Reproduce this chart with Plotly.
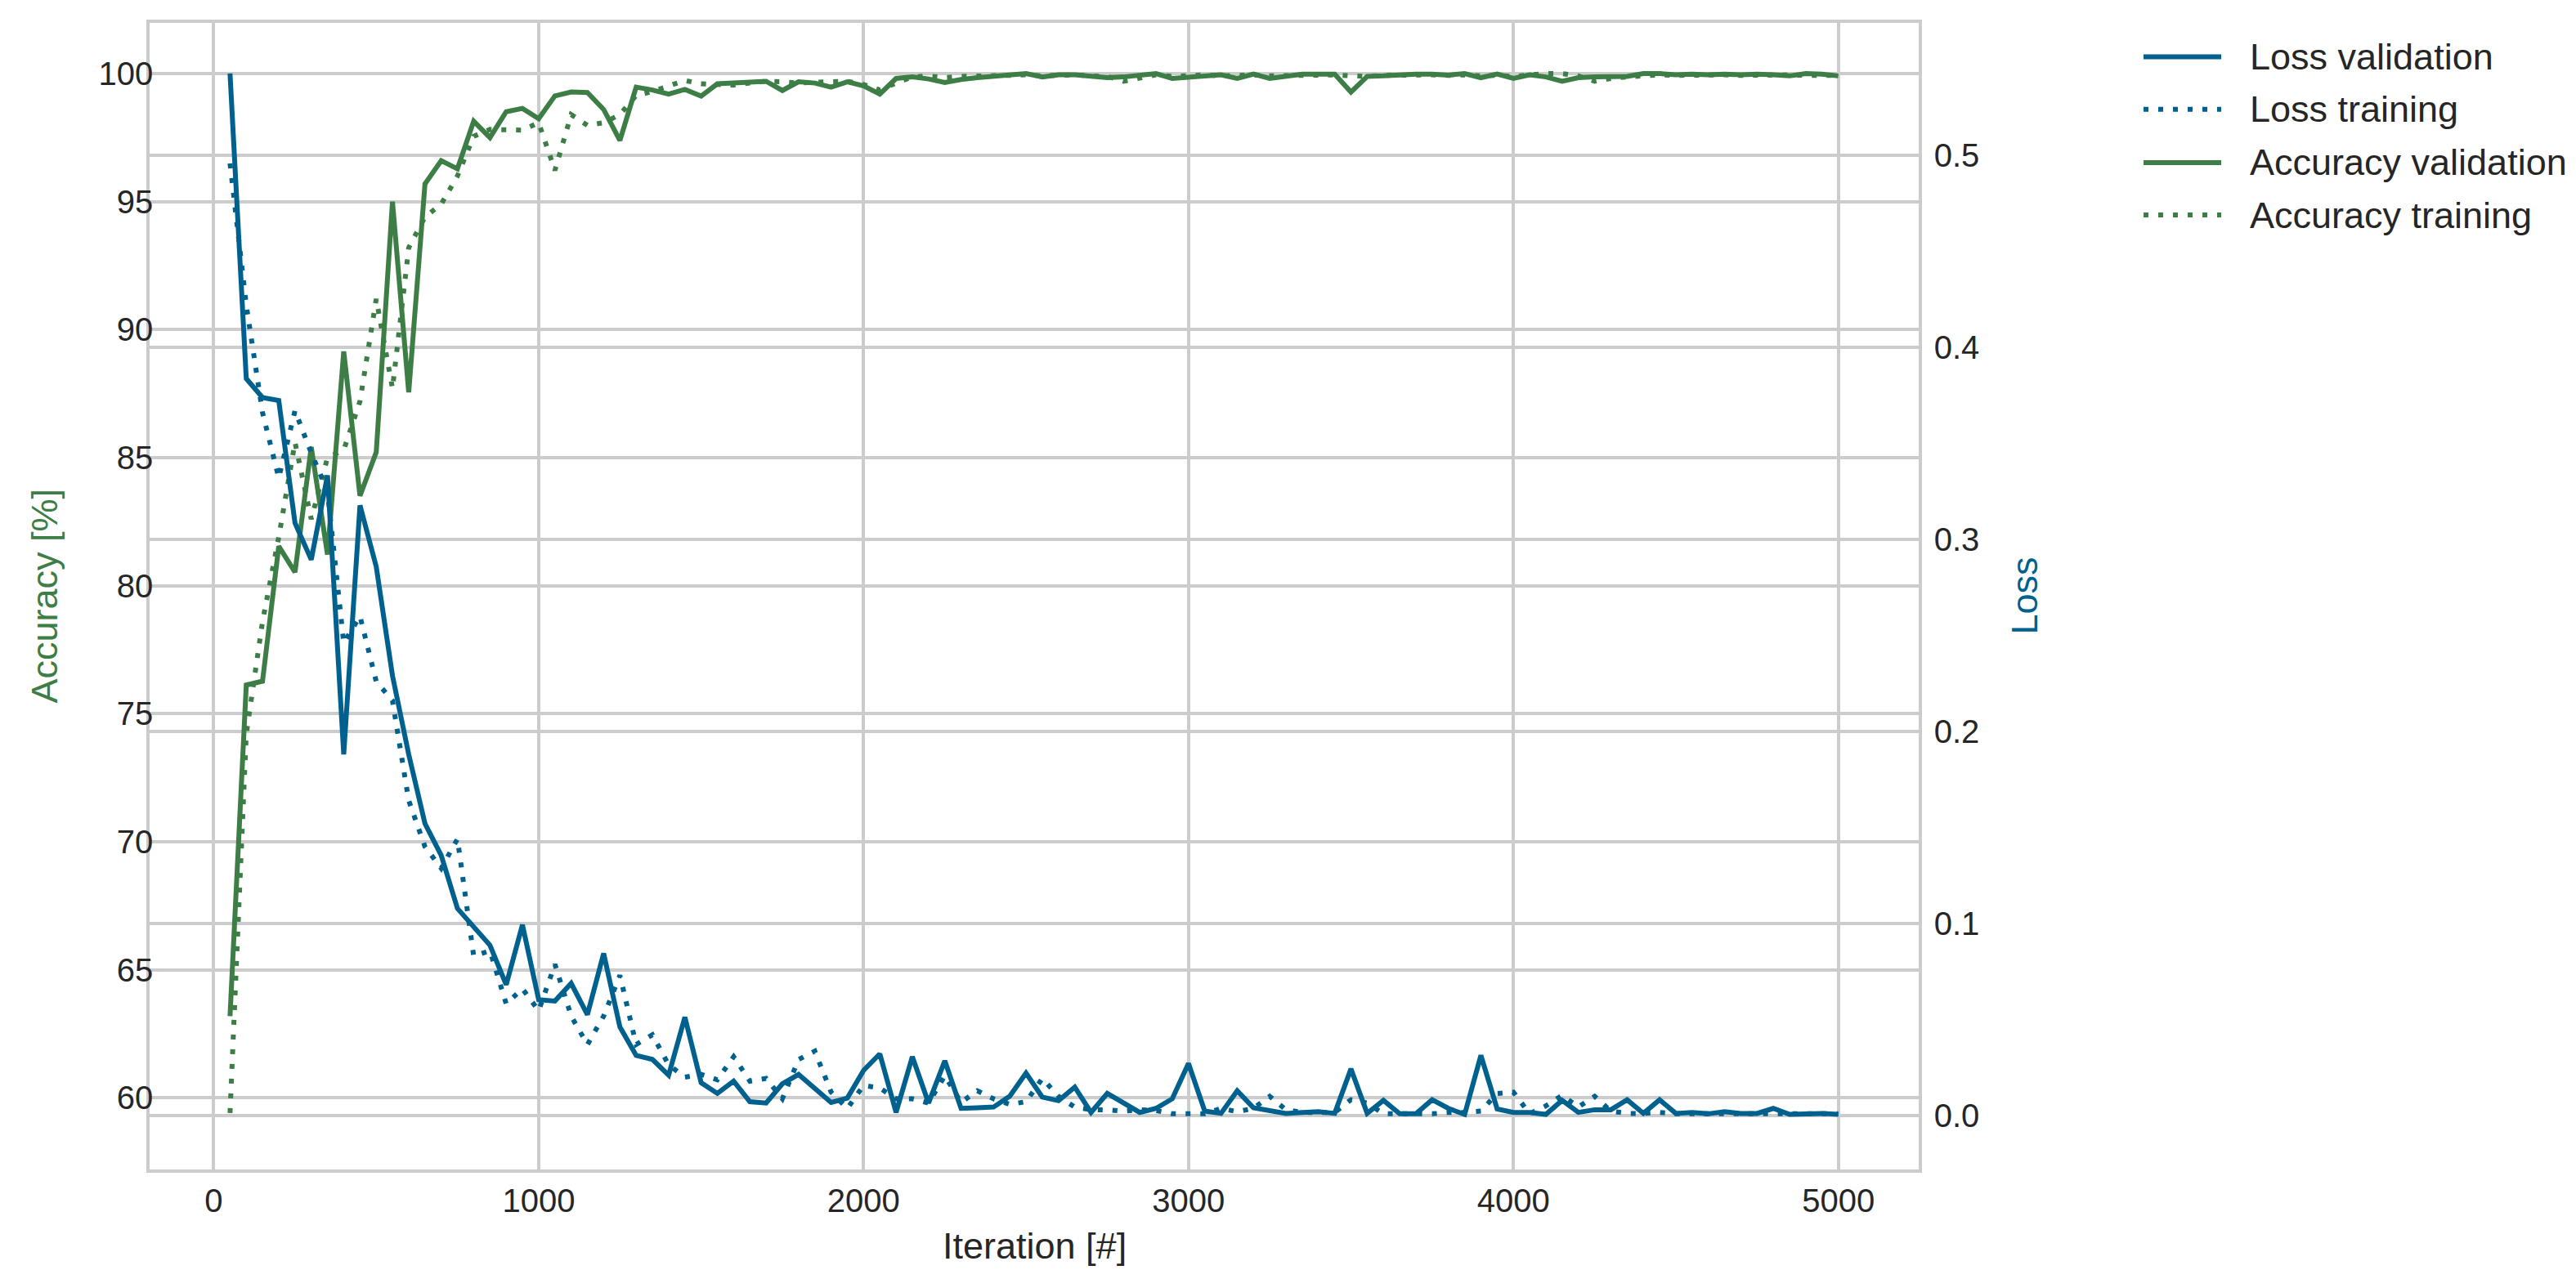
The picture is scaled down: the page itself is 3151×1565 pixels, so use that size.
import plotly.graph_objects as go

iterations = [50, 100, 150, 200, 250, 300, 350, 400, 450, 500,
              550, 600, 650, 700, 750, 800, 850, 900, 950, 1000,
              1050, 1100, 1150, 1200, 1250, 1300, 1350, 1400, 1450, 1500,
              1550, 1600, 1650, 1700, 1750, 1800, 1850, 1900, 1950, 2000,
              2050, 2100, 2150, 2200, 2250, 2300, 2350, 2400, 2450, 2500,
              2550, 2600, 2650, 2700, 2750, 2800, 2850, 2900, 2950, 3000,
              3050, 3100, 3150, 3200, 3250, 3300, 3350, 3400, 3450, 3500,
              3550, 3600, 3650, 3700, 3750, 3800, 3850, 3900, 3950, 4000,
              4050, 4100, 4150, 4200, 4250, 4300, 4350, 4400, 4450, 4500,
              4550, 4600, 4650, 4700, 4750, 4800, 4850, 4900, 4950, 5000]

acc_val = [63.19, 76.12, 76.27, 81.54, 80.53, 85.42, 81.22, 89.15, 83.51, 85.21,
           95.00, 87.55, 95.69, 96.60, 96.28, 98.14, 97.50, 98.51, 98.64, 98.24,
           99.13, 99.28, 99.26, 98.60, 97.39, 99.47, 99.36, 99.20, 99.38, 99.12,
           99.60, 99.63, 99.63, 99.70, 99.34, 99.68, 99.63, 99.47, 99.68, 99.52,
           99.20, 99.81, 99.87, 99.79, 99.65, 99.77, 99.84, 99.89, 99.97, 100.00,
           99.87, 99.95, 99.95, 99.91, 99.84, 99.87, 99.95, 100.00, 99.81, 99.87,
           99.91, 99.95, 99.81, 99.98, 99.81, 99.89, 99.98, 99.98, 99.98, 99.28,
           99.89, 99.91, 99.95, 99.98, 99.98, 99.94, 100.00, 99.84, 99.98, 99.81,
           99.95, 99.87, 99.70, 99.84, 99.87, 99.87, 99.89, 100.00, 100.00, 99.95,
           99.98, 99.95, 99.98, 99.95, 99.98, 99.95, 99.91, 100.00, 99.98, 99.91]

acc_train = [59.41, 74.2, 78.6, 81.9, 85.6, 82.6, 85.0, 85.3, 87.2, 91.2,
             87.7, 93.2, 94.4, 94.9, 96.0, 97.55, 97.82, 97.82, 97.79, 98.08,
             96.22, 98.40, 97.98, 98.08, 98.40, 99.15, 99.30, 99.52, 99.73, 99.60,
             99.57, 99.55, 99.63, 99.70, 99.68, 99.63, 99.66, 99.66, 99.70, 99.57,
             99.36, 99.63, 99.87, 99.91, 99.84, 99.89, 99.89, 99.91, 99.93, 99.95,
             99.91, 99.93, 99.95, 99.91, 99.89, 99.70, 99.81, 99.95, 99.89, 99.93,
             99.95, 99.91, 99.93, 99.95, 99.91, 99.93, 99.95, 99.93, 99.95, 99.91,
             99.89, 99.93, 99.95, 99.93, 99.95, 99.93, 99.95, 99.91, 99.93, 99.89,
             99.95, 100.00, 100.00, 99.91, 99.70, 99.81, 99.87, 99.93, 99.95, 99.93,
             99.95, 99.93, 99.95, 99.93, 99.95, 99.93, 99.95, 99.93, 99.95, 99.93]

loss_val = [0.5426, 0.3837, 0.3738, 0.3723, 0.3085, 0.2894, 0.3333, 0.1880, 0.3177, 0.2858,
            0.2290, 0.1880, 0.1520, 0.1355, 0.1078, 0.0979, 0.0887, 0.0681, 0.0993, 0.0603,
            0.0596, 0.0688, 0.0525, 0.0844, 0.0461, 0.0313, 0.0292, 0.0210, 0.0512, 0.0171,
            0.0115, 0.0179, 0.0072, 0.0065, 0.0165, 0.0214, 0.0143, 0.0068, 0.0091, 0.0235,
            0.0321, 0.0016, 0.0306, 0.0065, 0.0285, 0.0037, 0.0040, 0.0044, 0.0101, 0.0221,
            0.0096, 0.0077, 0.0148, 0.0016, 0.0115, 0.0068, 0.0016, 0.0037, 0.0087, 0.0271,
            0.0023, 0.0011, 0.0129, 0.0040, 0.0026, 0.0011, 0.0016, 0.0020, 0.0011, 0.0243,
            0.0011, 0.0079, 0.0009, 0.0009, 0.0082, 0.0037, 0.0006, 0.0313, 0.0034, 0.0016,
            0.0016, 0.0006, 0.0079, 0.0016, 0.0030, 0.0030, 0.0082, 0.0011, 0.0082, 0.0011,
            0.0016, 0.0009, 0.0020, 0.0011, 0.0011, 0.0037, 0.0006, 0.0009, 0.0011, 0.0006]

loss_train = [0.4957, 0.4220, 0.3660, 0.3320, 0.3670, 0.3450, 0.3250, 0.2460, 0.2600, 0.2260,
              0.2160, 0.1640, 0.1400, 0.1287, 0.1440, 0.0830, 0.0858, 0.0582, 0.0660, 0.0546,
              0.0787, 0.0518, 0.0369, 0.0518, 0.0730, 0.0370, 0.0420, 0.0264, 0.0200, 0.0214,
              0.0186, 0.0306, 0.0179, 0.0193, 0.0087, 0.0292, 0.0335, 0.0122, 0.0037, 0.0157,
              0.0143, 0.0087, 0.0087, 0.0065, 0.0207, 0.0068, 0.0129, 0.0087, 0.0058, 0.0072,
              0.0193, 0.0100, 0.0044, 0.0030, 0.0030, 0.0023, 0.0030, 0.0026, 0.0009, 0.0009,
              0.0009, 0.0037, 0.0020, 0.0037, 0.0100, 0.0030, 0.0016, 0.0016, 0.0016, 0.0082,
              0.0065, 0.0009, 0.0009, 0.0009, 0.0009, 0.0016, 0.0016, 0.0023, 0.0115, 0.0122,
              0.0009, 0.0050, 0.0105, 0.0044, 0.0100, 0.0023, 0.0011, 0.0011, 0.0016, 0.0009,
              0.0009, 0.0009, 0.0009, 0.0009, 0.0009, 0.0009, 0.0009, 0.0009, 0.0009, 0.0009]

x_ticks = [0, 1000, 2000, 3000, 4000, 5000]
acc_ticks = [60, 65, 70, 75, 80, 85, 90, 95, 100]
loss_ticks = [0.0, 0.1, 0.2, 0.3, 0.4, 0.5]

legend_labels = ["Loss validation", "Loss training", "Accuracy validation", "Accuracy training"]

BLUE = "#00618e"
GREEN = "#3d7d46"
GRID = "#cccccc"
TEXT = "#262626"
FONT = "Arial, Liberation Sans, sans-serif"
DOT = "6px,12px"
LW = 6

# page body has an 8px margin, so the figure is placed at (8, 8)
OFF = 8
W, H = 3135, 1549
L, R, T, B = 175, 796, 20, 126
pw, ph = W - L - R, H - T - B
plot_left = OFF + L
plot_bottom = OFF + T + ph


def px_x(page_x):
    return (page_x - plot_left) / pw


def px_y(page_y):
    return (plot_bottom - page_y) / ph


fig = go.Figure()
fig.add_trace(go.Scatter(x=iterations, y=acc_val, name="Accuracy validation", mode="lines",
                         line=dict(color=GREEN, width=LW), yaxis="y"))
fig.add_trace(go.Scatter(x=iterations, y=acc_train, name="Accuracy training", mode="lines",
                         line=dict(color=GREEN, width=LW, dash=DOT), yaxis="y"))
fig.add_trace(go.Scatter(x=iterations, y=loss_val, name="Loss validation", mode="lines",
                         line=dict(color=BLUE, width=LW), yaxis="y2"))
fig.add_trace(go.Scatter(x=iterations, y=loss_train, name="Loss training", mode="lines",
                         line=dict(color=BLUE, width=LW, dash=DOT), yaxis="y2"))

axis_common = dict(showgrid=True, gridcolor=GRID, gridwidth=3.5, zeroline=False,
                   showline=True, linecolor=GRID, linewidth=3.5,
                   tickfont=dict(family=FONT, size=40, color=TEXT))

fig.update_layout(
    width=W, height=H,
    margin=dict(l=L, r=R, t=T, b=B, autoexpand=False),
    paper_bgcolor="white", plot_bgcolor="white",
    font=dict(family=FONT, color=TEXT),
    showlegend=False,
    xaxis=dict(range=[-197.5, 5247.5], tickvals=x_ticks, mirror=True, ticks="", **axis_common),
    yaxis=dict(range=[57.20, 101.98], tickvals=acc_ticks,
               ticks="", ticklabelstandoff=-16, **axis_common),
    yaxis2=dict(range=[-0.0281, 0.5689], tickvals=loss_ticks, tickformat=".1f",
                overlaying="y", side="right",
                ticks="outside", ticklen=7, tickcolor="rgba(0,0,0,0)", **axis_common),
)

# axis titles
fig.add_annotation(text="Accuracy [%]", xref="paper", yref="paper",
                   x=px_x(54), y=0.5, xanchor="center", yanchor="middle",
                   textangle=-90, showarrow=False,
                   font=dict(family=FONT, size=45, color=GREEN))
fig.add_annotation(text="Loss", xref="paper", yref="paper",
                   x=px_x(2476), y=0.5, xanchor="center", yanchor="middle",
                   textangle=-90, showarrow=False,
                   font=dict(family=FONT, size=45, color=BLUE))
fig.add_annotation(text="Iteration [#]", xref="paper", yref="paper",
                   x=0.5, y=px_y(1524), xanchor="center", yanchor="middle",
                   showarrow=False,
                   font=dict(family=FONT, size=45, color=TEXT))

# legend (outside the axes, top right)
legend_styles = [(BLUE, "solid"), (BLUE, DOT), (GREEN, "solid"), (GREEN, DOT)]
legend_rows = [69.5, 133.7, 198.9, 263.0]
for label, (color, dash), row in zip(legend_labels, legend_styles, legend_rows):
    fig.add_shape(type="line", xref="paper", yref="paper",
                  x0=px_x(2622), x1=px_x(2717), y0=px_y(row), y1=px_y(row),
                  line=dict(color=color, width=LW, dash=dash))
    fig.add_annotation(text=label, xref="paper", yref="paper",
                       x=px_x(2750), y=px_y(row), xanchor="left", yanchor="middle",
                       showarrow=False, font=dict(family=FONT, size=45, color=TEXT))

fig.write_html("out.html")
